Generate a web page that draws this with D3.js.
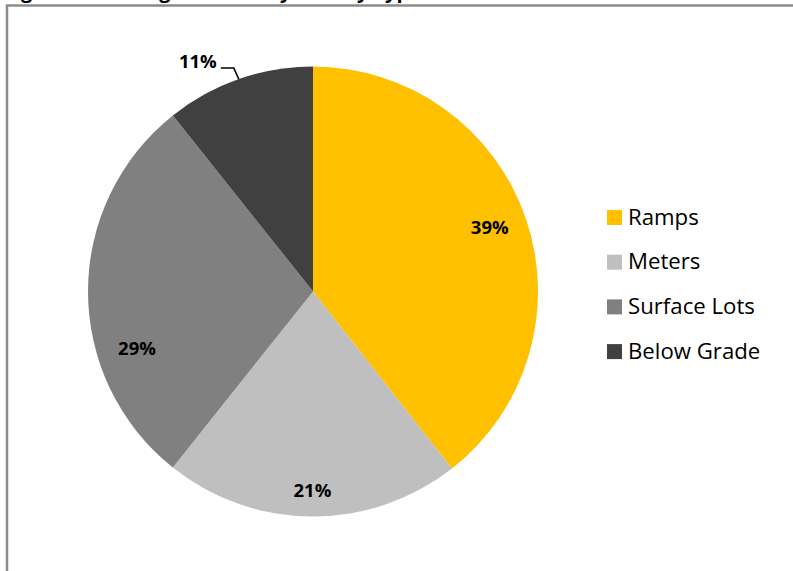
<!DOCTYPE html>
<html>
<head>
<meta charset="utf-8">
<script src="https://cdn.jsdelivr.net/npm/d3@7"></script>
<style>
  body { margin: 0; background: #fff; }
  svg { display: block; font-family: 'Open Sans', 'Noto Sans', sans-serif; }
</style>
</head>
<body>
<div id="chart"></div>
<script>
const categories = ['Ramps', 'Meters', 'Surface Lots', 'Below Grade'];
const shares = [39.4, 21.3, 28.6, 10.7];
const colors = ['#ffc000', '#bfbfbf', '#808080', '#404040'];
const title = 'Figure 3: Parking Revenue by Facility Type';

const w = 793, h = 571;
const cx = 313, cy = 291.5, radius = 225;

const svg = d3.select('#chart')
  .append('svg')
  .attr('width', w)
  .attr('height', h);

// title sits above the crop, only the descenders show
svg.append('text')
  .attr('x', 4)
  .attr('y', -2)
  .style('font-weight', '700')
  .style('font-size', '20px')
  .text(title);

// chart frame
svg.append('rect')
  .attr('x', 7)
  .attr('y', 5.5)
  .attr('width', w + 10)
  .attr('height', h + 10)
  .attr('fill', '#fff')
  .attr('stroke', '#8c8c8c')
  .attr('stroke-width', 2.5);

const data = categories.map((c, i) => ({ label: c, value: shares[i], color: colors[i] }));

const pie = d3.pie().sort(null).value(d => d.value);
const arcs = pie(data);

const arc = d3.arc().innerRadius(0).outerRadius(radius);

const g = svg.append('g').attr('transform', `translate(${cx},${cy})`);

g.selectAll('path')
  .data(arcs)
  .join('path')
  .attr('d', arc)
  .attr('fill', d => d.data.color);

const fmt = v => Math.round(v) + '%';

// label placement, Excel "best fit" style
const labelArc = d3.arc().innerRadius(187).outerRadius(187);
const nudge = { 'Ramps': [0, -3], 'Meters': [0, 12], 'Surface Lots': [11, 57] };

const inside = arcs.filter(d => d.data.label !== 'Below Grade');
g.selectAll('text.inlabel')
  .data(inside)
  .join('text')
  .attr('class', 'inlabel')
  .attr('x', d => labelArc.centroid(d)[0] + nudge[d.data.label][0])
  .attr('y', d => labelArc.centroid(d)[1] + nudge[d.data.label][1])
  .attr('dy', '0.35em')
  .attr('text-anchor', 'middle')
  .style('font-weight', '700')
  .style('font-size', '18.5px')
  .text(d => fmt(d.data.value));

// small slice: outside label with leader
const small = arcs.find(d => d.data.label === 'Below Grade');
const edge = d3.arc().innerRadius(radius).outerRadius(radius).centroid(small);
const elbow = [edge[0] - 5, edge[1] - 11];
const lead = [elbow[0] - 13, elbow[1]];

g.append('path')
  .attr('d', d3.line()([edge, elbow, lead]))
  .attr('fill', 'none')
  .attr('stroke', '#000')
  .attr('stroke-width', 1.5);

g.append('text')
  .attr('x', lead[0] - 4)
  .attr('y', lead[1] - 7)
  .attr('dy', '0.35em')
  .attr('text-anchor', 'end')
  .style('font-weight', '700')
  .style('font-size', '18.5px')
  .text(fmt(small.data.value));

// legend
const legend = svg.append('g')
  .attr('transform', 'translate(607,210)');

const item = legend.selectAll('g')
  .data(data)
  .join('g')
  .attr('transform', (d, i) => `translate(0, ${i * 44.7})`);

item.append('rect')
  .attr('width', 15)
  .attr('height', 15)
  .attr('fill', d => d.color);

item.append('text')
  .attr('x', 21)
  .attr('y', 7)
  .attr('dy', '0.35em')
  .style('font-size', '22.2px')
  .text(d => d.label);
</script>
</body>
</html>
